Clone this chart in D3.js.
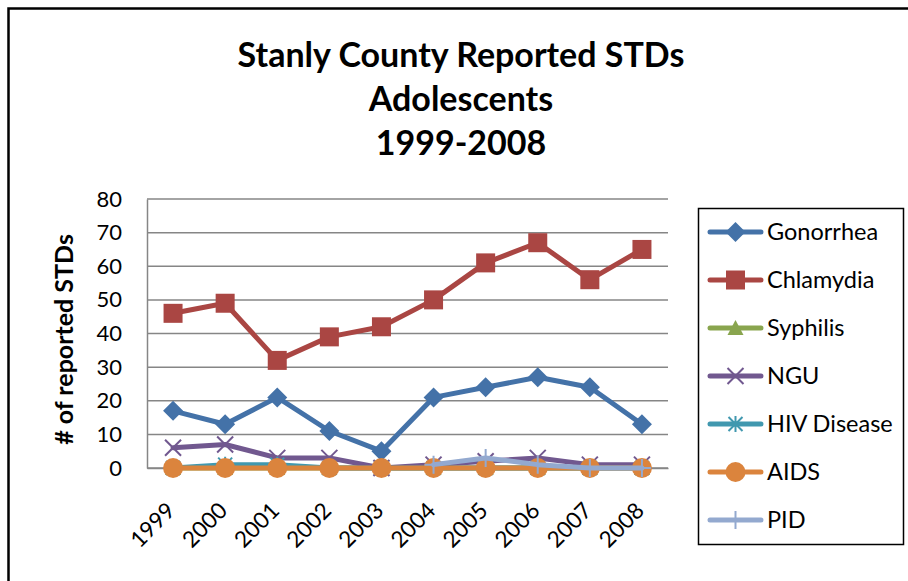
<!DOCTYPE html>
<html>
<head>
<meta charset="utf-8">
<script src="https://cdn.jsdelivr.net/npm/d3@7"></script>
<style>
  html, body { margin: 0; padding: 0; background: #fff; }
  svg { display: block; font-family: Lato, "Open Sans", "DejaVu Sans", sans-serif; }
</style>
</head>
<body>
<svg id="chart" width="908" height="581"></svg>
<script>
// Reported STD cases among adolescents, Stanly County, 1999-2008
const years = ["1999", "2000", "2001", "2002", "2003", "2004", "2005", "2006", "2007", "2008"];
const gonorrhea = [17, 13, 21, 11, 5, 21, 24, 27, 24, 13];
const chlamydia = [46, 49, 32, 39, 42, 50, 61, 67, 56, 65];
const syphilis  = [0, 0, 0, 0, 0, 0, 0, 0, 0, 0];
const ngu       = [6, 7, 3, 3, 0, 1, 2, 3, 1, 1];
const hiv       = [0, 1, 1, 0, 0, 0, 0, 0, 0, 0];
const aids      = [0, 0, 0, 0, 0, 0, 0, 0, 0, 0];
const pid       = [null, null, null, null, null, 1, 3, 1, 0, 0];
const yTicks = [0, 10, 20, 30, 40, 50, 60, 70, 80];
const titleLines = ["Stanly County Reported STDs", "Adolescents", "1999-2008"];
const yTitle = "# of reported STDs";

const series = [
  { name: "Gonorrhea",   values: gonorrhea, color: "#4472A8", marker: "diamond" },
  { name: "Chlamydia",   values: chlamydia, color: "#AA4643", marker: "square" },
  { name: "Syphilis",    values: syphilis,  color: "#89A54E", marker: "triangle" },
  { name: "NGU",         values: ngu,       color: "#71588F", marker: "x" },
  { name: "HIV Disease", values: hiv,       color: "#4198AF", marker: "star" },
  { name: "AIDS",        values: aids,      color: "#DB843D", marker: "circle" },
  { name: "PID",         values: pid,       color: "#93A9CF", marker: "plus" }
];

const svg = d3.select("#chart");

// chart area border (runs off the right and bottom edges)
svg.append("rect")
  .attr("x", 8.5).attr("y", 8.5).attr("width", 1000).attr("height", 1000)
  .attr("fill", "none").attr("stroke", "#000").attr("stroke-width", 2.5);

// title
const title = svg.append("text")
  .attr("text-anchor", "middle")
  .attr("font-weight", "bold")
  .attr("font-size", 34)
  .attr("fill", "#000");
titleLines.forEach((t, i) => {
  title.append("tspan").attr("x", 461).attr("y", 67 + i * 44).text(t);
});

const plot = { left: 147, right: 668, top: 199, bottom: 468 };

const x = d3.scalePoint().domain(years).range([plot.left, plot.right]).padding(0.5);
const y = d3.scaleLinear().domain([0, 80]).range([plot.bottom, plot.top]);

// horizontal gridlines
svg.append("g").selectAll("line").data(yTicks).join("line")
  .attr("x1", plot.left).attr("x2", plot.right)
  .attr("y1", d => y(d)).attr("y2", d => y(d))
  .attr("stroke", "#868686").attr("stroke-width", 1.5);

// value axis
const yAxis = svg.append("g")
  .attr("transform", `translate(${plot.left},0)`)
  .call(d3.axisLeft(y).tickValues(yTicks).tickSize(0).tickPadding(25));
yAxis.select(".domain").attr("stroke", "#868686").attr("stroke-width", 1.5);
yAxis.selectAll("text").attr("font-size", 22).attr("fill", "#000")
  .attr("font-family", "Lato, sans-serif");

// category axis
const xAxis = svg.append("g")
  .attr("transform", `translate(0,${plot.bottom})`)
  .call(d3.axisBottom(x).tickSize(0).tickPadding(0));
xAxis.select(".domain").attr("stroke", "#868686").attr("stroke-width", 1.5);
xAxis.selectAll("text")
  .attr("font-size", 22.5).attr("fill", "#000")
  .attr("font-family", "Lato, sans-serif")
  .attr("text-anchor", "end")
  .attr("dy", null).attr("y", null)
  .attr("transform", "translate(3,44) rotate(-45)");

// axis title
svg.append("text")
  .attr("transform", `translate(73,${(plot.top + plot.bottom) / 2 + 6}) rotate(-90)`)
  .attr("text-anchor", "middle")
  .attr("font-weight", "bold")
  .attr("font-size", 25)
  .attr("fill", "#000")
  .text(yTitle);

// marker shapes
function drawMarker(g, type, color, cx, cy) {
  const s = g.append("g").attr("transform", `translate(${cx},${cy})`);
  switch (type) {
    case "diamond":
      s.append("path").attr("d", "M0,-10L10,0L0,10L-10,0Z").attr("fill", color);
      break;
    case "square":
      s.append("rect").attr("x", -9.5).attr("y", -9.5).attr("width", 19).attr("height", 19).attr("fill", color);
      break;
    case "triangle":
      s.append("path").attr("d", "M0,-8L8,7L-8,7Z").attr("fill", color);
      break;
    case "x":
      s.append("path").attr("d", "M-8,-8L8,8M-8,8L8,-8").attr("stroke", color).attr("stroke-width", 2);
      break;
    case "star":
      s.append("path").attr("d", "M-7,-7L7,7M-7,7L7,-7M0,-8L0,8").attr("stroke", color).attr("stroke-width", 2);
      break;
    case "circle":
      s.append("circle").attr("r", 10).attr("fill", color);
      break;
    case "plus":
      s.append("path").attr("d", "M0,-9L0,9M-9,0L9,0").attr("stroke", color).attr("stroke-width", 2);
      break;
  }
}

const line = d3.line()
  .defined(d => d.v !== null)
  .x(d => x(d.year))
  .y(d => y(d.v));

const marks = svg.append("g");
series.forEach(s => {
  const pts = years.map((yr, i) => ({ year: yr, v: s.values[i] }));
  const g = marks.append("g");
  g.append("path")
    .attr("d", line(pts))
    .attr("fill", "none")
    .attr("stroke", s.color)
    .attr("stroke-width", 5)
    .attr("stroke-linejoin", "round")
    .attr("stroke-linecap", "round");
  pts.filter(p => p.v !== null).forEach(p => drawMarker(g, s.marker, s.color, x(p.year), y(p.v)));
});

// legend
const legend = svg.append("g");
legend.append("rect")
  .attr("x", 698.5).attr("y", 208.5).attr("width", 205).attr("height", 336)
  .attr("fill", "#fff").attr("stroke", "#000").attr("stroke-width", 1.5);
series.forEach((s, i) => {
  const ly = 232 + i * 48;
  const g = legend.append("g");
  g.append("line")
    .attr("x1", 710).attr("x2", 761).attr("y1", ly).attr("y2", ly)
    .attr("stroke", s.color).attr("stroke-width", 5).attr("stroke-linecap", "round");
  drawMarker(g, s.marker, s.color, 735.5, ly);
  g.append("text")
    .attr("x", 767).attr("y", ly).attr("dy", "0.35em")
    .attr("font-size", 23.5).attr("fill", "#000")
    .text(s.name);
});
</script>
</body>
</html>
